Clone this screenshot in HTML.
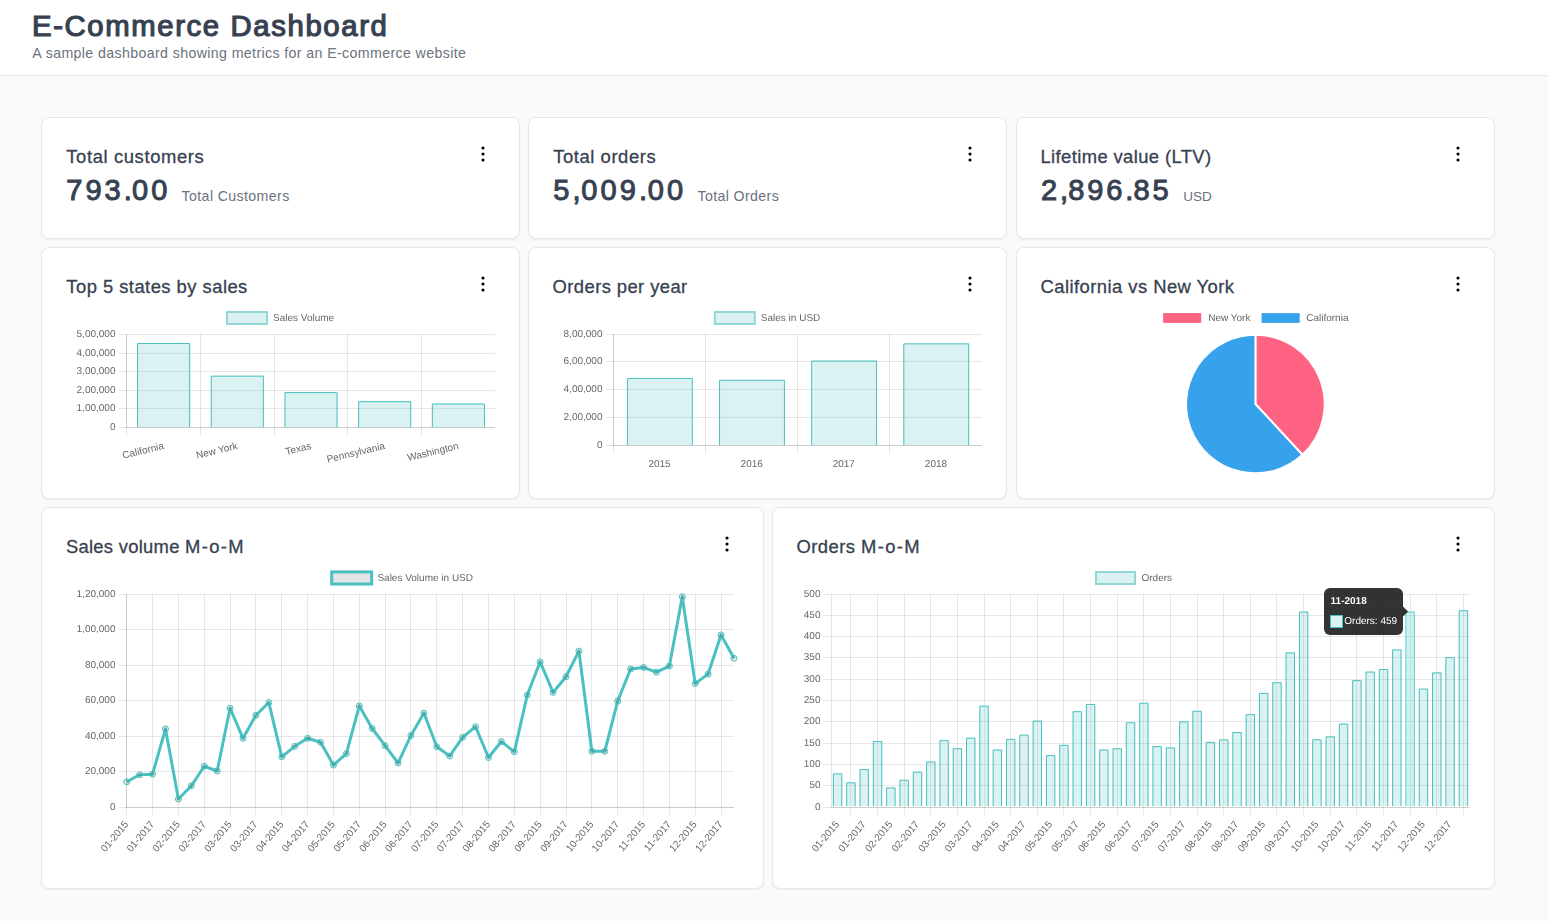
<!DOCTYPE html>
<html lang="en"><head><meta charset="utf-8"><title>E-Commerce Dashboard</title>
<style>
html,body{margin:0;padding:0}
body{width:1548px;height:921px;overflow:hidden;position:relative;background:#f9fafb;font-family:"Liberation Sans", sans-serif;color:#374151}
.hdr{position:absolute;left:0;top:0;width:1548px;height:75px;background:#fff;border-bottom:1px solid #e5e7eb}
.card{position:absolute;background:#fff;border:1px solid #e5e7eb;border-radius:8px;box-sizing:border-box;box-shadow:0 1px 2px rgba(0,0,0,.05)}
.t{position:absolute;white-space:pre;line-height:1;margin:0}
svg{position:absolute;left:0;top:0;will-change:transform}
svg text{font-family:"Liberation Sans", sans-serif;font-size:10px;fill:#666;text-rendering:geometricPrecision}

</style></head><body>
<div class="hdr"></div>
<div class="card" style="left:41px;top:117px;width:479px;height:122px"></div>
<div class="card" style="left:528px;top:117px;width:479px;height:122px"></div>
<div class="card" style="left:1016px;top:117px;width:479px;height:122px"></div>
<div class="card" style="left:41px;top:247px;width:479px;height:252px"></div>
<div class="card" style="left:528px;top:247px;width:479px;height:252px"></div>
<div class="card" style="left:1016px;top:247px;width:479px;height:252px"></div>
<div class="card" style="left:41px;top:507px;width:723px;height:382px"></div>
<div class="card" style="left:772px;top:507px;width:723px;height:382px"></div>
<h1 class="t" style="left:32.0px;top:10.60px;font-size:29.3px;font-weight:400;color:#374151;letter-spacing:1.624px;-webkit-text-stroke:1.2px #374151">E-Commerce Dashboard</h1>
<p class="t" style="left:32.3px;top:45.70px;font-size:14.2px;font-weight:400;color:#6b7280;letter-spacing:0.373px">A sample dashboard showing metrics for an E-commerce website</p>
<div class="t" style="left:66.3px;top:148.00px;font-size:18.4px;font-weight:400;color:#374151;letter-spacing:0.615px;-webkit-text-stroke:0.3px #374151">Total customers</div>
<div class="t" style="left:66.3px;top:176.30px;font-size:29.0px;font-weight:400;color:#374151;letter-spacing:2.983px;-webkit-text-stroke:1.0px #374151">793<span style="letter-spacing:0.383px">.</span>00</div>
<div class="t" style="left:181.6px;top:188.80px;font-size:14.2px;font-weight:400;color:#6b7280;letter-spacing:0.367px">Total Customers</div>
<div class="t" style="left:553.2px;top:148.00px;font-size:18.4px;font-weight:400;color:#374151;letter-spacing:0.576px;-webkit-text-stroke:0.3px #374151">Total orders</div>
<div class="t" style="left:553.3px;top:176.30px;font-size:29.0px;font-weight:400;color:#374151;letter-spacing:3.164px;-webkit-text-stroke:1.0px #374151">5<span style="letter-spacing:0.564px">,</span>009<span style="letter-spacing:0.564px">.</span>00</div>
<div class="t" style="left:697.6px;top:188.80px;font-size:14.2px;font-weight:400;color:#6b7280;letter-spacing:0.352px">Total Orders</div>
<div class="t" style="left:1040.5px;top:148.00px;font-size:18.4px;font-weight:400;color:#374151;letter-spacing:0.390px;-webkit-text-stroke:0.3px #374151">Lifetime value (LTV)</div>
<div class="t" style="left:1040.9px;top:176.30px;font-size:29.0px;font-weight:400;color:#374151;letter-spacing:2.851px;-webkit-text-stroke:1.0px #374151">2<span style="letter-spacing:0.251px">,</span>896<span style="letter-spacing:0.251px">.</span>85</div>
<div class="t" style="left:1183.3px;top:189.80px;font-size:13.6px;font-weight:400;color:#6b7280;letter-spacing:-0.034px">USD</div>
<div class="t" style="left:66.3px;top:278.20px;font-size:18.4px;font-weight:400;color:#374151;letter-spacing:0.464px;-webkit-text-stroke:0.3px #374151">Top 5 states by sales</div>
<div class="t" style="left:552.6px;top:278.20px;font-size:18.4px;font-weight:400;color:#374151;letter-spacing:0.415px;-webkit-text-stroke:0.3px #374151">Orders per year</div>
<div class="t" style="left:1040.5px;top:278.20px;font-size:18.4px;font-weight:400;color:#374151;letter-spacing:0.455px;-webkit-text-stroke:0.3px #374151">California vs New York</div>
<div class="t" style="left:65.9px;top:538.20px;font-size:18.4px;font-weight:400;color:#374151;-webkit-text-stroke:0.3px #374151"><span style="letter-spacing:0.283px">Sales volume </span><span style="letter-spacing:1.355px">M-o-M</span></div>
<div class="t" style="left:796.5px;top:538.20px;font-size:18.4px;font-weight:400;color:#374151;-webkit-text-stroke:0.3px #374151"><span style="letter-spacing:0.467px">Orders </span><span style="letter-spacing:1.335px">M-o-M</span></div>
<svg width="1548" height="921" viewBox="0 0 1548 921">
<circle cx="483" cy="148" r="1.55" fill="#000"/>
<circle cx="483" cy="154" r="1.55" fill="#000"/>
<circle cx="483" cy="160" r="1.55" fill="#000"/>
<circle cx="970" cy="148" r="1.55" fill="#000"/>
<circle cx="970" cy="154" r="1.55" fill="#000"/>
<circle cx="970" cy="160" r="1.55" fill="#000"/>
<circle cx="1458" cy="148" r="1.55" fill="#000"/>
<circle cx="1458" cy="154" r="1.55" fill="#000"/>
<circle cx="1458" cy="160" r="1.55" fill="#000"/>
<circle cx="483" cy="278" r="1.55" fill="#000"/>
<circle cx="483" cy="284" r="1.55" fill="#000"/>
<circle cx="483" cy="290" r="1.55" fill="#000"/>
<circle cx="970" cy="278" r="1.55" fill="#000"/>
<circle cx="970" cy="284" r="1.55" fill="#000"/>
<circle cx="970" cy="290" r="1.55" fill="#000"/>
<circle cx="1458" cy="278" r="1.55" fill="#000"/>
<circle cx="1458" cy="284" r="1.55" fill="#000"/>
<circle cx="1458" cy="290" r="1.55" fill="#000"/>
<circle cx="727" cy="538" r="1.55" fill="#000"/>
<circle cx="727" cy="544" r="1.55" fill="#000"/>
<circle cx="727" cy="550" r="1.55" fill="#000"/>
<circle cx="1458" cy="538" r="1.55" fill="#000"/>
<circle cx="1458" cy="544" r="1.55" fill="#000"/>
<circle cx="1458" cy="550" r="1.55" fill="#000"/>
<path d="M118.80 427.5H126.50" stroke="rgba(0,0,0,0.095)"/>
<path d="M126.00 427.5H495.00" stroke="rgba(0,0,0,0.195)"/>
<text transform="translate(115.50,429.80) scale(1,1)" text-anchor="end" >0</text>
<path d="M118.80 408.5H495.00" stroke="rgba(0,0,0,0.095)"/>
<text transform="translate(115.50,410.80) scale(1,1)" text-anchor="end" >1,00,000</text>
<path d="M118.80 390.5H495.00" stroke="rgba(0,0,0,0.095)"/>
<text transform="translate(115.50,392.80) scale(1,1)" text-anchor="end" >2,00,000</text>
<path d="M118.80 371.5H495.00" stroke="rgba(0,0,0,0.095)"/>
<text transform="translate(115.50,373.80) scale(1,1)" text-anchor="end" >3,00,000</text>
<path d="M118.80 353.5H495.00" stroke="rgba(0,0,0,0.095)"/>
<text transform="translate(115.50,355.80) scale(1,1)" text-anchor="end" >4,00,000</text>
<path d="M118.80 334.5H495.00" stroke="rgba(0,0,0,0.095)"/>
<text transform="translate(115.50,336.80) scale(1,1)" text-anchor="end" >5,00,000</text>
<path d="M126.5 334.00V428.00" stroke="rgba(0,0,0,0.195)"/>
<path d="M126.5 428.00V436.00" stroke="rgba(0,0,0,0.095)"/>
<path d="M200.5 334.00V436.00" stroke="rgba(0,0,0,0.095)"/>
<path d="M274.5 334.00V436.00" stroke="rgba(0,0,0,0.095)"/>
<path d="M347.5 334.00V436.00" stroke="rgba(0,0,0,0.095)"/>
<path d="M421.5 334.00V436.00" stroke="rgba(0,0,0,0.095)"/>
<rect x="137.07" y="343.00" width="53.06" height="84.40" fill="rgba(75,192,192,0.2)"/>
<path d="M137.57 427.40V343.50H189.63V427.40" fill="none" stroke="#4bc0c0" stroke-width="1"/>
<text transform="translate(163.60,445.60) rotate(-13.5) translate(0,3.3) scale(1,1)" text-anchor="end">California</text>
<rect x="210.77" y="375.70" width="53.06" height="51.70" fill="rgba(75,192,192,0.2)"/>
<path d="M211.27 427.40V376.20H263.33V427.40" fill="none" stroke="#4bc0c0" stroke-width="1"/>
<text transform="translate(237.30,445.60) rotate(-13.5) translate(0,3.3) scale(1,1)" text-anchor="end">New York</text>
<rect x="284.47" y="392.10" width="53.06" height="35.30" fill="rgba(75,192,192,0.2)"/>
<path d="M284.97 427.40V392.60H337.03V427.40" fill="none" stroke="#4bc0c0" stroke-width="1"/>
<text transform="translate(311.00,445.60) rotate(-13.5) translate(0,3.3) scale(1,1)" text-anchor="end">Texas</text>
<rect x="358.17" y="401.20" width="53.06" height="26.20" fill="rgba(75,192,192,0.2)"/>
<path d="M358.67 427.40V401.70H410.73V427.40" fill="none" stroke="#4bc0c0" stroke-width="1"/>
<text transform="translate(384.70,445.60) rotate(-13.5) translate(0,3.3) scale(1,1)" text-anchor="end">Pennsylvania</text>
<rect x="431.87" y="403.50" width="53.06" height="23.90" fill="rgba(75,192,192,0.2)"/>
<path d="M432.37 427.40V404.00H484.43V427.40" fill="none" stroke="#4bc0c0" stroke-width="1"/>
<text transform="translate(458.40,445.60) rotate(-13.5) translate(0,3.3) scale(1,1)" text-anchor="end">Washington</text>
<rect x="227.00" y="312.00" width="40.00" height="12.00" fill="#dbf2f2" stroke="#93d6d6" stroke-width="2"/>
<text transform="translate(273.00,321.00) scale(1,1)" text-anchor="start" >Sales Volume</text>
<path d="M605.80 445.5H613.50" stroke="rgba(0,0,0,0.095)"/>
<path d="M613.00 445.5H982.00" stroke="rgba(0,0,0,0.195)"/>
<text transform="translate(602.50,447.80) scale(1,1)" text-anchor="end" >0</text>
<path d="M605.80 417.5H982.00" stroke="rgba(0,0,0,0.095)"/>
<text transform="translate(602.50,419.80) scale(1,1)" text-anchor="end" >2,00,000</text>
<path d="M605.80 389.5H982.00" stroke="rgba(0,0,0,0.095)"/>
<text transform="translate(602.50,391.80) scale(1,1)" text-anchor="end" >4,00,000</text>
<path d="M605.80 361.5H982.00" stroke="rgba(0,0,0,0.095)"/>
<text transform="translate(602.50,363.80) scale(1,1)" text-anchor="end" >6,00,000</text>
<path d="M605.80 334.5H982.00" stroke="rgba(0,0,0,0.095)"/>
<text transform="translate(602.50,336.80) scale(1,1)" text-anchor="end" >8,00,000</text>
<path d="M613.5 334.00V446.00" stroke="rgba(0,0,0,0.195)"/>
<path d="M613.5 446.00V454.00" stroke="rgba(0,0,0,0.095)"/>
<path d="M705.5 334.00V454.00" stroke="rgba(0,0,0,0.095)"/>
<path d="M797.5 334.00V454.00" stroke="rgba(0,0,0,0.095)"/>
<path d="M889.5 334.00V454.00" stroke="rgba(0,0,0,0.095)"/>
<rect x="626.93" y="377.91" width="65.87" height="67.19" fill="rgba(75,192,192,0.2)"/>
<path d="M627.43 445.10V378.41H692.30V445.10" fill="none" stroke="#4bc0c0" stroke-width="1"/>
<text transform="translate(659.56,466.70) scale(1,1)" text-anchor="middle" >2015</text>
<rect x="719.05" y="379.81" width="65.87" height="65.29" fill="rgba(75,192,192,0.2)"/>
<path d="M719.55 445.10V380.31H784.42V445.10" fill="none" stroke="#4bc0c0" stroke-width="1"/>
<text transform="translate(751.69,466.70) scale(1,1)" text-anchor="middle" >2016</text>
<rect x="811.18" y="360.57" width="65.87" height="84.53" fill="rgba(75,192,192,0.2)"/>
<path d="M811.68 445.10V361.07H876.55V445.10" fill="none" stroke="#4bc0c0" stroke-width="1"/>
<text transform="translate(843.81,466.70) scale(1,1)" text-anchor="middle" >2017</text>
<rect x="903.30" y="343.37" width="65.87" height="101.73" fill="rgba(75,192,192,0.2)"/>
<path d="M903.80 445.10V343.87H968.67V445.10" fill="none" stroke="#4bc0c0" stroke-width="1"/>
<text transform="translate(935.94,466.70) scale(1,1)" text-anchor="middle" >2018</text>
<rect x="714.80" y="312.00" width="40.00" height="12.00" fill="#dbf2f2" stroke="#93d6d6" stroke-width="2"/>
<text transform="translate(760.80,321.00) scale(1,1)" text-anchor="start" >Sales in USD</text>
<path d="M1255.4 404.0L1255.4 334.7A69.3 69.3 0 0 1 1302.52 454.82Z" fill="#ff6384" stroke="#fff" stroke-width="2" stroke-linejoin="round"/>
<path d="M1255.4 404.0L1302.52 454.82A69.3 69.3 0 1 1 1255.4 334.7Z" fill="#36a2eb" stroke="#fff" stroke-width="2" stroke-linejoin="round"/>
<rect x="1163.1" y="313.1" width="38.1" height="9.8" fill="#ff6384"/>
<text transform="translate(1208.20,321.00) scale(1,1)" text-anchor="start" >New York</text>
<rect x="1261.6" y="313.1" width="38.1" height="9.8" fill="#36a2eb"/>
<text transform="translate(1306.20,321.00) scale(1,1)" text-anchor="start" >California</text>
<path d="M118.80 807.5H126.50" stroke="rgba(0,0,0,0.095)"/>
<path d="M126.00 807.5H734.00" stroke="rgba(0,0,0,0.195)"/>
<text transform="translate(115.50,809.80) scale(1,1)" text-anchor="end" >0</text>
<path d="M118.80 771.5H734.00" stroke="rgba(0,0,0,0.095)"/>
<text transform="translate(115.50,773.80) scale(1,1)" text-anchor="end" >20,000</text>
<path d="M118.80 736.5H734.00" stroke="rgba(0,0,0,0.095)"/>
<text transform="translate(115.50,738.80) scale(1,1)" text-anchor="end" >40,000</text>
<path d="M118.80 700.5H734.00" stroke="rgba(0,0,0,0.095)"/>
<text transform="translate(115.50,702.80) scale(1,1)" text-anchor="end" >60,000</text>
<path d="M118.80 665.5H734.00" stroke="rgba(0,0,0,0.095)"/>
<text transform="translate(115.50,667.80) scale(1,1)" text-anchor="end" >80,000</text>
<path d="M118.80 629.5H734.00" stroke="rgba(0,0,0,0.095)"/>
<text transform="translate(115.50,631.80) scale(1,1)" text-anchor="end" >1,00,000</text>
<path d="M118.80 594.5H734.00" stroke="rgba(0,0,0,0.095)"/>
<text transform="translate(115.50,596.80) scale(1,1)" text-anchor="end" >1,20,000</text>
<path d="M126.5 594.00V808.00" stroke="rgba(0,0,0,0.195)"/>
<path d="M126.5 808.00V815.00" stroke="rgba(0,0,0,0.095)"/>
<text transform="translate(126.42,822.30) rotate(-50) translate(0,3.3) scale(1,1)" text-anchor="end">01-2015</text>
<path d="M152.5 594.00V815.00" stroke="rgba(0,0,0,0.095)"/>
<text transform="translate(152.26,822.30) rotate(-50) translate(0,3.3) scale(1,1)" text-anchor="end">01-2017</text>
<path d="M178.5 594.00V815.00" stroke="rgba(0,0,0,0.095)"/>
<text transform="translate(178.10,822.30) rotate(-50) translate(0,3.3) scale(1,1)" text-anchor="end">02-2015</text>
<path d="M204.5 594.00V815.00" stroke="rgba(0,0,0,0.095)"/>
<text transform="translate(203.94,822.30) rotate(-50) translate(0,3.3) scale(1,1)" text-anchor="end">02-2017</text>
<path d="M230.5 594.00V815.00" stroke="rgba(0,0,0,0.095)"/>
<text transform="translate(229.78,822.30) rotate(-50) translate(0,3.3) scale(1,1)" text-anchor="end">03-2015</text>
<path d="M255.5 594.00V815.00" stroke="rgba(0,0,0,0.095)"/>
<text transform="translate(255.62,822.30) rotate(-50) translate(0,3.3) scale(1,1)" text-anchor="end">03-2017</text>
<path d="M281.5 594.00V815.00" stroke="rgba(0,0,0,0.095)"/>
<text transform="translate(281.46,822.30) rotate(-50) translate(0,3.3) scale(1,1)" text-anchor="end">04-2015</text>
<path d="M307.5 594.00V815.00" stroke="rgba(0,0,0,0.095)"/>
<text transform="translate(307.30,822.30) rotate(-50) translate(0,3.3) scale(1,1)" text-anchor="end">04-2017</text>
<path d="M333.5 594.00V815.00" stroke="rgba(0,0,0,0.095)"/>
<text transform="translate(333.14,822.30) rotate(-50) translate(0,3.3) scale(1,1)" text-anchor="end">05-2015</text>
<path d="M359.5 594.00V815.00" stroke="rgba(0,0,0,0.095)"/>
<text transform="translate(358.98,822.30) rotate(-50) translate(0,3.3) scale(1,1)" text-anchor="end">05-2017</text>
<path d="M385.5 594.00V815.00" stroke="rgba(0,0,0,0.095)"/>
<text transform="translate(384.82,822.30) rotate(-50) translate(0,3.3) scale(1,1)" text-anchor="end">06-2015</text>
<path d="M410.5 594.00V815.00" stroke="rgba(0,0,0,0.095)"/>
<text transform="translate(410.66,822.30) rotate(-50) translate(0,3.3) scale(1,1)" text-anchor="end">06-2017</text>
<path d="M436.5 594.00V815.00" stroke="rgba(0,0,0,0.095)"/>
<text transform="translate(436.50,822.30) rotate(-50) translate(0,3.3) scale(1,1)" text-anchor="end">07-2015</text>
<path d="M462.5 594.00V815.00" stroke="rgba(0,0,0,0.095)"/>
<text transform="translate(462.34,822.30) rotate(-50) translate(0,3.3) scale(1,1)" text-anchor="end">07-2017</text>
<path d="M488.5 594.00V815.00" stroke="rgba(0,0,0,0.095)"/>
<text transform="translate(488.18,822.30) rotate(-50) translate(0,3.3) scale(1,1)" text-anchor="end">08-2015</text>
<path d="M514.5 594.00V815.00" stroke="rgba(0,0,0,0.095)"/>
<text transform="translate(514.02,822.30) rotate(-50) translate(0,3.3) scale(1,1)" text-anchor="end">08-2017</text>
<path d="M540.5 594.00V815.00" stroke="rgba(0,0,0,0.095)"/>
<text transform="translate(539.86,822.30) rotate(-50) translate(0,3.3) scale(1,1)" text-anchor="end">09-2015</text>
<path d="M566.5 594.00V815.00" stroke="rgba(0,0,0,0.095)"/>
<text transform="translate(565.70,822.30) rotate(-50) translate(0,3.3) scale(1,1)" text-anchor="end">09-2017</text>
<path d="M591.5 594.00V815.00" stroke="rgba(0,0,0,0.095)"/>
<text transform="translate(591.54,822.30) rotate(-50) translate(0,3.3) scale(1,1)" text-anchor="end">10-2015</text>
<path d="M617.5 594.00V815.00" stroke="rgba(0,0,0,0.095)"/>
<text transform="translate(617.38,822.30) rotate(-50) translate(0,3.3) scale(1,1)" text-anchor="end">10-2017</text>
<path d="M643.5 594.00V815.00" stroke="rgba(0,0,0,0.095)"/>
<text transform="translate(643.22,822.30) rotate(-50) translate(0,3.3) scale(1,1)" text-anchor="end">11-2015</text>
<path d="M669.5 594.00V815.00" stroke="rgba(0,0,0,0.095)"/>
<text transform="translate(669.06,822.30) rotate(-50) translate(0,3.3) scale(1,1)" text-anchor="end">11-2017</text>
<path d="M695.5 594.00V815.00" stroke="rgba(0,0,0,0.095)"/>
<text transform="translate(694.90,822.30) rotate(-50) translate(0,3.3) scale(1,1)" text-anchor="end">12-2015</text>
<path d="M721.5 594.00V815.00" stroke="rgba(0,0,0,0.095)"/>
<text transform="translate(720.74,822.30) rotate(-50) translate(0,3.3) scale(1,1)" text-anchor="end">12-2017</text>
<polyline fill="none" stroke="#4bc0c0" stroke-width="3" stroke-linejoin="round" points="126.72,781.78 139.64,774.79 152.56,774.14 165.48,729.00 178.40,799.03 191.32,785.84 204.24,766.26 217.16,771.02 230.08,708.20 243.00,738.31 255.92,715.25 268.84,702.55 281.76,756.83 294.68,746.35 307.60,738.27 320.52,742.22 333.44,765.07 346.36,753.57 359.28,705.90 372.20,728.49 385.12,745.64 398.04,763.03 410.96,735.44 423.88,713.01 436.80,746.80 449.72,755.99 462.64,737.36 475.56,726.71 488.48,757.51 501.40,741.56 514.32,751.82 527.24,695.01 540.16,661.90 553.08,692.39 566.00,676.75 578.92,651.09 591.84,751.22 604.76,751.31 617.68,701.10 630.60,669.00 643.52,667.48 656.44,672.20 669.36,666.09 682.28,596.81 695.20,683.61 708.12,674.07 721.04,634.88 733.96,658.25"/>
<circle cx="126.72" cy="781.78" r="3" fill="rgba(0,0,0,0.1)" stroke="#4bc0c0" stroke-width="1"/>
<circle cx="139.64" cy="774.79" r="3" fill="rgba(0,0,0,0.1)" stroke="#4bc0c0" stroke-width="1"/>
<circle cx="152.56" cy="774.14" r="3" fill="rgba(0,0,0,0.1)" stroke="#4bc0c0" stroke-width="1"/>
<circle cx="165.48" cy="729.00" r="3" fill="rgba(0,0,0,0.1)" stroke="#4bc0c0" stroke-width="1"/>
<circle cx="178.40" cy="799.03" r="3" fill="rgba(0,0,0,0.1)" stroke="#4bc0c0" stroke-width="1"/>
<circle cx="191.32" cy="785.84" r="3" fill="rgba(0,0,0,0.1)" stroke="#4bc0c0" stroke-width="1"/>
<circle cx="204.24" cy="766.26" r="3" fill="rgba(0,0,0,0.1)" stroke="#4bc0c0" stroke-width="1"/>
<circle cx="217.16" cy="771.02" r="3" fill="rgba(0,0,0,0.1)" stroke="#4bc0c0" stroke-width="1"/>
<circle cx="230.08" cy="708.20" r="3" fill="rgba(0,0,0,0.1)" stroke="#4bc0c0" stroke-width="1"/>
<circle cx="243.00" cy="738.31" r="3" fill="rgba(0,0,0,0.1)" stroke="#4bc0c0" stroke-width="1"/>
<circle cx="255.92" cy="715.25" r="3" fill="rgba(0,0,0,0.1)" stroke="#4bc0c0" stroke-width="1"/>
<circle cx="268.84" cy="702.55" r="3" fill="rgba(0,0,0,0.1)" stroke="#4bc0c0" stroke-width="1"/>
<circle cx="281.76" cy="756.83" r="3" fill="rgba(0,0,0,0.1)" stroke="#4bc0c0" stroke-width="1"/>
<circle cx="294.68" cy="746.35" r="3" fill="rgba(0,0,0,0.1)" stroke="#4bc0c0" stroke-width="1"/>
<circle cx="307.60" cy="738.27" r="3" fill="rgba(0,0,0,0.1)" stroke="#4bc0c0" stroke-width="1"/>
<circle cx="320.52" cy="742.22" r="3" fill="rgba(0,0,0,0.1)" stroke="#4bc0c0" stroke-width="1"/>
<circle cx="333.44" cy="765.07" r="3" fill="rgba(0,0,0,0.1)" stroke="#4bc0c0" stroke-width="1"/>
<circle cx="346.36" cy="753.57" r="3" fill="rgba(0,0,0,0.1)" stroke="#4bc0c0" stroke-width="1"/>
<circle cx="359.28" cy="705.90" r="3" fill="rgba(0,0,0,0.1)" stroke="#4bc0c0" stroke-width="1"/>
<circle cx="372.20" cy="728.49" r="3" fill="rgba(0,0,0,0.1)" stroke="#4bc0c0" stroke-width="1"/>
<circle cx="385.12" cy="745.64" r="3" fill="rgba(0,0,0,0.1)" stroke="#4bc0c0" stroke-width="1"/>
<circle cx="398.04" cy="763.03" r="3" fill="rgba(0,0,0,0.1)" stroke="#4bc0c0" stroke-width="1"/>
<circle cx="410.96" cy="735.44" r="3" fill="rgba(0,0,0,0.1)" stroke="#4bc0c0" stroke-width="1"/>
<circle cx="423.88" cy="713.01" r="3" fill="rgba(0,0,0,0.1)" stroke="#4bc0c0" stroke-width="1"/>
<circle cx="436.80" cy="746.80" r="3" fill="rgba(0,0,0,0.1)" stroke="#4bc0c0" stroke-width="1"/>
<circle cx="449.72" cy="755.99" r="3" fill="rgba(0,0,0,0.1)" stroke="#4bc0c0" stroke-width="1"/>
<circle cx="462.64" cy="737.36" r="3" fill="rgba(0,0,0,0.1)" stroke="#4bc0c0" stroke-width="1"/>
<circle cx="475.56" cy="726.71" r="3" fill="rgba(0,0,0,0.1)" stroke="#4bc0c0" stroke-width="1"/>
<circle cx="488.48" cy="757.51" r="3" fill="rgba(0,0,0,0.1)" stroke="#4bc0c0" stroke-width="1"/>
<circle cx="501.40" cy="741.56" r="3" fill="rgba(0,0,0,0.1)" stroke="#4bc0c0" stroke-width="1"/>
<circle cx="514.32" cy="751.82" r="3" fill="rgba(0,0,0,0.1)" stroke="#4bc0c0" stroke-width="1"/>
<circle cx="527.24" cy="695.01" r="3" fill="rgba(0,0,0,0.1)" stroke="#4bc0c0" stroke-width="1"/>
<circle cx="540.16" cy="661.90" r="3" fill="rgba(0,0,0,0.1)" stroke="#4bc0c0" stroke-width="1"/>
<circle cx="553.08" cy="692.39" r="3" fill="rgba(0,0,0,0.1)" stroke="#4bc0c0" stroke-width="1"/>
<circle cx="566.00" cy="676.75" r="3" fill="rgba(0,0,0,0.1)" stroke="#4bc0c0" stroke-width="1"/>
<circle cx="578.92" cy="651.09" r="3" fill="rgba(0,0,0,0.1)" stroke="#4bc0c0" stroke-width="1"/>
<circle cx="591.84" cy="751.22" r="3" fill="rgba(0,0,0,0.1)" stroke="#4bc0c0" stroke-width="1"/>
<circle cx="604.76" cy="751.31" r="3" fill="rgba(0,0,0,0.1)" stroke="#4bc0c0" stroke-width="1"/>
<circle cx="617.68" cy="701.10" r="3" fill="rgba(0,0,0,0.1)" stroke="#4bc0c0" stroke-width="1"/>
<circle cx="630.60" cy="669.00" r="3" fill="rgba(0,0,0,0.1)" stroke="#4bc0c0" stroke-width="1"/>
<circle cx="643.52" cy="667.48" r="3" fill="rgba(0,0,0,0.1)" stroke="#4bc0c0" stroke-width="1"/>
<circle cx="656.44" cy="672.20" r="3" fill="rgba(0,0,0,0.1)" stroke="#4bc0c0" stroke-width="1"/>
<circle cx="669.36" cy="666.09" r="3" fill="rgba(0,0,0,0.1)" stroke="#4bc0c0" stroke-width="1"/>
<circle cx="682.28" cy="596.81" r="3" fill="rgba(0,0,0,0.1)" stroke="#4bc0c0" stroke-width="1"/>
<circle cx="695.20" cy="683.61" r="3" fill="rgba(0,0,0,0.1)" stroke="#4bc0c0" stroke-width="1"/>
<circle cx="708.12" cy="674.07" r="3" fill="rgba(0,0,0,0.1)" stroke="#4bc0c0" stroke-width="1"/>
<circle cx="721.04" cy="634.88" r="3" fill="rgba(0,0,0,0.1)" stroke="#4bc0c0" stroke-width="1"/>
<circle cx="733.96" cy="658.25" r="3" fill="rgba(0,0,0,0.1)" stroke="#4bc0c0" stroke-width="1"/>
<rect x="331.70" y="571.90" width="40.00" height="12.10" fill="#e5e5e5" stroke="#4bc0c0" stroke-width="3"/>
<text transform="translate(377.40,581.00) scale(1,1)" text-anchor="start" >Sales Volume in USD</text>
<path d="M823.10 807.5H831.50" stroke="rgba(0,0,0,0.095)"/>
<path d="M831.00 807.5H1469.80" stroke="rgba(0,0,0,0.195)"/>
<text transform="translate(820.50,809.80) scale(1,1)" text-anchor="end" >0</text>
<path d="M823.10 785.5H1469.80" stroke="rgba(0,0,0,0.095)"/>
<text transform="translate(820.50,787.80) scale(1,1)" text-anchor="end" >50</text>
<path d="M823.10 764.5H1469.80" stroke="rgba(0,0,0,0.095)"/>
<text transform="translate(820.50,766.80) scale(1,1)" text-anchor="end" >100</text>
<path d="M823.10 743.5H1469.80" stroke="rgba(0,0,0,0.095)"/>
<text transform="translate(820.50,745.80) scale(1,1)" text-anchor="end" >150</text>
<path d="M823.10 721.5H1469.80" stroke="rgba(0,0,0,0.095)"/>
<text transform="translate(820.50,723.80) scale(1,1)" text-anchor="end" >200</text>
<path d="M823.10 700.5H1469.80" stroke="rgba(0,0,0,0.095)"/>
<text transform="translate(820.50,702.80) scale(1,1)" text-anchor="end" >250</text>
<path d="M823.10 679.5H1469.80" stroke="rgba(0,0,0,0.095)"/>
<text transform="translate(820.50,681.80) scale(1,1)" text-anchor="end" >300</text>
<path d="M823.10 657.5H1469.80" stroke="rgba(0,0,0,0.095)"/>
<text transform="translate(820.50,659.80) scale(1,1)" text-anchor="end" >350</text>
<path d="M823.10 636.5H1469.80" stroke="rgba(0,0,0,0.095)"/>
<text transform="translate(820.50,638.80) scale(1,1)" text-anchor="end" >400</text>
<path d="M823.10 615.5H1469.80" stroke="rgba(0,0,0,0.095)"/>
<text transform="translate(820.50,617.80) scale(1,1)" text-anchor="end" >450</text>
<path d="M823.10 594.5H1469.80" stroke="rgba(0,0,0,0.095)"/>
<text transform="translate(820.50,596.80) scale(1,1)" text-anchor="end" >500</text>
<path d="M831.5 594.00V808.00" stroke="rgba(0,0,0,0.095)"/>
<text transform="translate(837.19,822.30) rotate(-50) translate(0,3.3) scale(1,1)" text-anchor="end">01-2015</text>
<path d="M850.5 594.00V815.00" stroke="rgba(0,0,0,0.095)"/>
<text transform="translate(863.82,822.30) rotate(-50) translate(0,3.3) scale(1,1)" text-anchor="end">01-2017</text>
<path d="M877.5 594.00V815.00" stroke="rgba(0,0,0,0.095)"/>
<text transform="translate(890.45,822.30) rotate(-50) translate(0,3.3) scale(1,1)" text-anchor="end">02-2015</text>
<path d="M904.5 594.00V815.00" stroke="rgba(0,0,0,0.095)"/>
<text transform="translate(917.08,822.30) rotate(-50) translate(0,3.3) scale(1,1)" text-anchor="end">02-2017</text>
<path d="M930.5 594.00V815.00" stroke="rgba(0,0,0,0.095)"/>
<text transform="translate(943.71,822.30) rotate(-50) translate(0,3.3) scale(1,1)" text-anchor="end">03-2015</text>
<path d="M957.5 594.00V815.00" stroke="rgba(0,0,0,0.095)"/>
<text transform="translate(970.34,822.30) rotate(-50) translate(0,3.3) scale(1,1)" text-anchor="end">03-2017</text>
<path d="M984.5 594.00V815.00" stroke="rgba(0,0,0,0.095)"/>
<text transform="translate(996.97,822.30) rotate(-50) translate(0,3.3) scale(1,1)" text-anchor="end">04-2015</text>
<path d="M1010.5 594.00V815.00" stroke="rgba(0,0,0,0.095)"/>
<text transform="translate(1023.60,822.30) rotate(-50) translate(0,3.3) scale(1,1)" text-anchor="end">04-2017</text>
<path d="M1037.5 594.00V815.00" stroke="rgba(0,0,0,0.095)"/>
<text transform="translate(1050.22,822.30) rotate(-50) translate(0,3.3) scale(1,1)" text-anchor="end">05-2015</text>
<path d="M1063.5 594.00V815.00" stroke="rgba(0,0,0,0.095)"/>
<text transform="translate(1076.86,822.30) rotate(-50) translate(0,3.3) scale(1,1)" text-anchor="end">05-2017</text>
<path d="M1090.5 594.00V815.00" stroke="rgba(0,0,0,0.095)"/>
<text transform="translate(1103.48,822.30) rotate(-50) translate(0,3.3) scale(1,1)" text-anchor="end">06-2015</text>
<path d="M1117.5 594.00V815.00" stroke="rgba(0,0,0,0.095)"/>
<text transform="translate(1130.12,822.30) rotate(-50) translate(0,3.3) scale(1,1)" text-anchor="end">06-2017</text>
<path d="M1143.5 594.00V815.00" stroke="rgba(0,0,0,0.095)"/>
<text transform="translate(1156.74,822.30) rotate(-50) translate(0,3.3) scale(1,1)" text-anchor="end">07-2015</text>
<path d="M1170.5 594.00V815.00" stroke="rgba(0,0,0,0.095)"/>
<text transform="translate(1183.38,822.30) rotate(-50) translate(0,3.3) scale(1,1)" text-anchor="end">07-2017</text>
<path d="M1197.5 594.00V815.00" stroke="rgba(0,0,0,0.095)"/>
<text transform="translate(1210.00,822.30) rotate(-50) translate(0,3.3) scale(1,1)" text-anchor="end">08-2015</text>
<path d="M1223.5 594.00V815.00" stroke="rgba(0,0,0,0.095)"/>
<text transform="translate(1236.63,822.30) rotate(-50) translate(0,3.3) scale(1,1)" text-anchor="end">08-2017</text>
<path d="M1250.5 594.00V815.00" stroke="rgba(0,0,0,0.095)"/>
<text transform="translate(1263.26,822.30) rotate(-50) translate(0,3.3) scale(1,1)" text-anchor="end">09-2015</text>
<path d="M1276.5 594.00V815.00" stroke="rgba(0,0,0,0.095)"/>
<text transform="translate(1289.89,822.30) rotate(-50) translate(0,3.3) scale(1,1)" text-anchor="end">09-2017</text>
<path d="M1303.5 594.00V815.00" stroke="rgba(0,0,0,0.095)"/>
<text transform="translate(1316.52,822.30) rotate(-50) translate(0,3.3) scale(1,1)" text-anchor="end">10-2015</text>
<path d="M1330.5 594.00V815.00" stroke="rgba(0,0,0,0.095)"/>
<text transform="translate(1343.15,822.30) rotate(-50) translate(0,3.3) scale(1,1)" text-anchor="end">10-2017</text>
<path d="M1356.5 594.00V815.00" stroke="rgba(0,0,0,0.095)"/>
<text transform="translate(1369.78,822.30) rotate(-50) translate(0,3.3) scale(1,1)" text-anchor="end">11-2015</text>
<path d="M1383.5 594.00V815.00" stroke="rgba(0,0,0,0.095)"/>
<text transform="translate(1396.41,822.30) rotate(-50) translate(0,3.3) scale(1,1)" text-anchor="end">11-2017</text>
<path d="M1410.5 594.00V815.00" stroke="rgba(0,0,0,0.095)"/>
<text transform="translate(1423.05,822.30) rotate(-50) translate(0,3.3) scale(1,1)" text-anchor="end">12-2015</text>
<path d="M1436.5 594.00V815.00" stroke="rgba(0,0,0,0.095)"/>
<text transform="translate(1449.67,822.30) rotate(-50) translate(0,3.3) scale(1,1)" text-anchor="end">12-2017</text>
<path d="M1463.5 594.00V815.00" stroke="rgba(0,0,0,0.095)"/>
<rect x="832.88" y="773.40" width="9.40" height="32.75" fill="rgba(75,192,192,0.2)"/>
<path d="M833.38 806.15V773.90H841.79V806.15" fill="none" stroke="#4bc0c0" stroke-width="1"/>
<rect x="846.20" y="782.34" width="9.40" height="23.81" fill="rgba(75,192,192,0.2)"/>
<path d="M846.70 806.15V782.84H855.10V806.15" fill="none" stroke="#4bc0c0" stroke-width="1"/>
<rect x="859.51" y="769.14" width="9.40" height="37.01" fill="rgba(75,192,192,0.2)"/>
<path d="M860.01 806.15V769.64H868.42V806.15" fill="none" stroke="#4bc0c0" stroke-width="1"/>
<rect x="872.83" y="741.02" width="9.40" height="65.13" fill="rgba(75,192,192,0.2)"/>
<path d="M873.33 806.15V741.52H881.73V806.15" fill="none" stroke="#4bc0c0" stroke-width="1"/>
<rect x="886.14" y="787.45" width="9.40" height="18.70" fill="rgba(75,192,192,0.2)"/>
<path d="M886.64 806.15V787.95H895.05V806.15" fill="none" stroke="#4bc0c0" stroke-width="1"/>
<rect x="899.46" y="779.79" width="9.40" height="26.36" fill="rgba(75,192,192,0.2)"/>
<path d="M899.96 806.15V780.29H908.36V806.15" fill="none" stroke="#4bc0c0" stroke-width="1"/>
<rect x="912.77" y="771.69" width="9.40" height="34.46" fill="rgba(75,192,192,0.2)"/>
<path d="M913.27 806.15V772.19H921.68V806.15" fill="none" stroke="#4bc0c0" stroke-width="1"/>
<rect x="926.09" y="761.47" width="9.40" height="44.68" fill="rgba(75,192,192,0.2)"/>
<path d="M926.59 806.15V761.97H934.99V806.15" fill="none" stroke="#4bc0c0" stroke-width="1"/>
<rect x="939.40" y="740.17" width="9.40" height="65.98" fill="rgba(75,192,192,0.2)"/>
<path d="M939.90 806.15V740.67H948.31V806.15" fill="none" stroke="#4bc0c0" stroke-width="1"/>
<rect x="952.72" y="748.26" width="9.40" height="57.89" fill="rgba(75,192,192,0.2)"/>
<path d="M953.22 806.15V748.76H961.62V806.15" fill="none" stroke="#4bc0c0" stroke-width="1"/>
<rect x="966.03" y="737.61" width="9.40" height="68.54" fill="rgba(75,192,192,0.2)"/>
<path d="M966.53 806.15V738.11H974.94V806.15" fill="none" stroke="#4bc0c0" stroke-width="1"/>
<rect x="979.35" y="705.66" width="9.40" height="100.49" fill="rgba(75,192,192,0.2)"/>
<path d="M979.85 806.15V706.16H988.25V806.15" fill="none" stroke="#4bc0c0" stroke-width="1"/>
<rect x="992.66" y="749.54" width="9.40" height="56.61" fill="rgba(75,192,192,0.2)"/>
<path d="M993.16 806.15V750.04H1001.57V806.15" fill="none" stroke="#4bc0c0" stroke-width="1"/>
<rect x="1005.98" y="738.89" width="9.40" height="67.26" fill="rgba(75,192,192,0.2)"/>
<path d="M1006.48 806.15V739.39H1014.88V806.15" fill="none" stroke="#4bc0c0" stroke-width="1"/>
<rect x="1019.29" y="734.63" width="9.40" height="71.52" fill="rgba(75,192,192,0.2)"/>
<path d="M1019.79 806.15V735.13H1028.19V806.15" fill="none" stroke="#4bc0c0" stroke-width="1"/>
<rect x="1032.61" y="720.57" width="9.40" height="85.58" fill="rgba(75,192,192,0.2)"/>
<path d="M1033.11 806.15V721.07H1041.51V806.15" fill="none" stroke="#4bc0c0" stroke-width="1"/>
<rect x="1045.92" y="755.08" width="9.40" height="51.07" fill="rgba(75,192,192,0.2)"/>
<path d="M1046.42 806.15V755.58H1054.83V806.15" fill="none" stroke="#4bc0c0" stroke-width="1"/>
<rect x="1059.24" y="744.85" width="9.40" height="61.30" fill="rgba(75,192,192,0.2)"/>
<path d="M1059.74 806.15V745.35H1068.14V806.15" fill="none" stroke="#4bc0c0" stroke-width="1"/>
<rect x="1072.56" y="711.20" width="9.40" height="94.95" fill="rgba(75,192,192,0.2)"/>
<path d="M1073.06 806.15V711.70H1081.46V806.15" fill="none" stroke="#4bc0c0" stroke-width="1"/>
<rect x="1085.87" y="703.96" width="9.40" height="102.19" fill="rgba(75,192,192,0.2)"/>
<path d="M1086.37 806.15V704.46H1094.77V806.15" fill="none" stroke="#4bc0c0" stroke-width="1"/>
<rect x="1099.18" y="749.54" width="9.40" height="56.61" fill="rgba(75,192,192,0.2)"/>
<path d="M1099.68 806.15V750.04H1108.09V806.15" fill="none" stroke="#4bc0c0" stroke-width="1"/>
<rect x="1112.50" y="748.26" width="9.40" height="57.89" fill="rgba(75,192,192,0.2)"/>
<path d="M1113.00 806.15V748.76H1121.40V806.15" fill="none" stroke="#4bc0c0" stroke-width="1"/>
<rect x="1125.82" y="722.28" width="9.40" height="83.87" fill="rgba(75,192,192,0.2)"/>
<path d="M1126.32 806.15V722.78H1134.72V806.15" fill="none" stroke="#4bc0c0" stroke-width="1"/>
<rect x="1139.13" y="702.68" width="9.40" height="103.47" fill="rgba(75,192,192,0.2)"/>
<path d="M1139.63 806.15V703.18H1148.03V806.15" fill="none" stroke="#4bc0c0" stroke-width="1"/>
<rect x="1152.44" y="746.13" width="9.40" height="60.02" fill="rgba(75,192,192,0.2)"/>
<path d="M1152.94 806.15V746.63H1161.35V806.15" fill="none" stroke="#4bc0c0" stroke-width="1"/>
<rect x="1165.76" y="747.41" width="9.40" height="58.74" fill="rgba(75,192,192,0.2)"/>
<path d="M1166.26 806.15V747.91H1174.66V806.15" fill="none" stroke="#4bc0c0" stroke-width="1"/>
<rect x="1179.08" y="721.42" width="9.40" height="84.73" fill="rgba(75,192,192,0.2)"/>
<path d="M1179.58 806.15V721.92H1187.98V806.15" fill="none" stroke="#4bc0c0" stroke-width="1"/>
<rect x="1192.39" y="710.77" width="9.40" height="95.38" fill="rgba(75,192,192,0.2)"/>
<path d="M1192.89 806.15V711.27H1201.29V806.15" fill="none" stroke="#4bc0c0" stroke-width="1"/>
<rect x="1205.70" y="741.87" width="9.40" height="64.28" fill="rgba(75,192,192,0.2)"/>
<path d="M1206.20 806.15V742.37H1214.61V806.15" fill="none" stroke="#4bc0c0" stroke-width="1"/>
<rect x="1219.02" y="739.32" width="9.40" height="66.83" fill="rgba(75,192,192,0.2)"/>
<path d="M1219.52 806.15V739.82H1227.92V806.15" fill="none" stroke="#4bc0c0" stroke-width="1"/>
<rect x="1232.34" y="732.07" width="9.40" height="74.08" fill="rgba(75,192,192,0.2)"/>
<path d="M1232.84 806.15V732.57H1241.24V806.15" fill="none" stroke="#4bc0c0" stroke-width="1"/>
<rect x="1245.65" y="714.18" width="9.40" height="91.97" fill="rgba(75,192,192,0.2)"/>
<path d="M1246.15 806.15V714.68H1254.55V806.15" fill="none" stroke="#4bc0c0" stroke-width="1"/>
<rect x="1258.96" y="692.88" width="9.40" height="113.27" fill="rgba(75,192,192,0.2)"/>
<path d="M1259.46 806.15V693.38H1267.87V806.15" fill="none" stroke="#4bc0c0" stroke-width="1"/>
<rect x="1272.28" y="682.23" width="9.40" height="123.92" fill="rgba(75,192,192,0.2)"/>
<path d="M1272.78 806.15V682.73H1281.18V806.15" fill="none" stroke="#4bc0c0" stroke-width="1"/>
<rect x="1285.60" y="652.41" width="9.40" height="153.74" fill="rgba(75,192,192,0.2)"/>
<path d="M1286.10 806.15V652.91H1294.50V806.15" fill="none" stroke="#4bc0c0" stroke-width="1"/>
<rect x="1298.91" y="611.52" width="9.40" height="194.63" fill="rgba(75,192,192,0.2)"/>
<path d="M1299.41 806.15V612.02H1307.81V806.15" fill="none" stroke="#4bc0c0" stroke-width="1"/>
<rect x="1312.22" y="739.32" width="9.40" height="66.83" fill="rgba(75,192,192,0.2)"/>
<path d="M1312.72 806.15V739.82H1321.12V806.15" fill="none" stroke="#4bc0c0" stroke-width="1"/>
<rect x="1325.54" y="736.33" width="9.40" height="69.82" fill="rgba(75,192,192,0.2)"/>
<path d="M1326.04 806.15V736.83H1334.44V806.15" fill="none" stroke="#4bc0c0" stroke-width="1"/>
<rect x="1338.86" y="723.55" width="9.40" height="82.60" fill="rgba(75,192,192,0.2)"/>
<path d="M1339.36 806.15V724.05H1347.76V806.15" fill="none" stroke="#4bc0c0" stroke-width="1"/>
<rect x="1352.17" y="680.10" width="9.40" height="126.05" fill="rgba(75,192,192,0.2)"/>
<path d="M1352.67 806.15V680.60H1361.07V806.15" fill="none" stroke="#4bc0c0" stroke-width="1"/>
<rect x="1365.48" y="671.58" width="9.40" height="134.57" fill="rgba(75,192,192,0.2)"/>
<path d="M1365.98 806.15V672.08H1374.38V806.15" fill="none" stroke="#4bc0c0" stroke-width="1"/>
<rect x="1378.80" y="669.03" width="9.40" height="137.12" fill="rgba(75,192,192,0.2)"/>
<path d="M1379.30 806.15V669.53H1387.70V806.15" fill="none" stroke="#4bc0c0" stroke-width="1"/>
<rect x="1392.12" y="649.43" width="9.40" height="156.72" fill="rgba(75,192,192,0.2)"/>
<path d="M1392.62 806.15V649.93H1401.02V806.15" fill="none" stroke="#4bc0c0" stroke-width="1"/>
<rect x="1405.43" y="611.52" width="9.40" height="194.63" fill="rgba(75,205,205,0.27)"/>
<path d="M1405.93 806.15V612.02H1414.33V806.15" fill="none" stroke="#62d2d2" stroke-width="1"/>
<rect x="1418.75" y="688.62" width="9.40" height="117.53" fill="rgba(75,192,192,0.2)"/>
<path d="M1419.25 806.15V689.12H1427.65V806.15" fill="none" stroke="#4bc0c0" stroke-width="1"/>
<rect x="1432.06" y="672.43" width="9.40" height="133.72" fill="rgba(75,192,192,0.2)"/>
<path d="M1432.56 806.15V672.93H1440.96V806.15" fill="none" stroke="#4bc0c0" stroke-width="1"/>
<rect x="1445.38" y="657.10" width="9.40" height="149.05" fill="rgba(75,192,192,0.2)"/>
<path d="M1445.88 806.15V657.60H1454.28V806.15" fill="none" stroke="#4bc0c0" stroke-width="1"/>
<rect x="1458.69" y="610.24" width="9.40" height="195.91" fill="rgba(75,192,192,0.2)"/>
<path d="M1459.19 806.15V610.74H1467.59V806.15" fill="none" stroke="#4bc0c0" stroke-width="1"/>
<rect x="1096.00" y="572.00" width="39.00" height="12.00" fill="#dbf2f2" stroke="#93d6d6" stroke-width="2"/>
<text transform="translate(1141.50,581.00) scale(1,1)" text-anchor="start" >Orders</text>
<rect x="1324" y="588" width="79" height="47" rx="6" ry="6" fill="rgba(0,0,0,0.8)"/>
<path d="M1403 606.4L1408 611.4L1403 616.4Z" fill="rgba(0,0,0,0.8)"/>
<text transform="translate(1330.60,604.00) scale(1,1)" text-anchor="start" style="fill:#fff;font-weight:700">11-2018</text>
<rect x="1330" y="615" width="13" height="13" fill="#fff"/>
<rect x="1330.5" y="615.5" width="12" height="12" fill="#dbf2f2" stroke="#4bc0c0" stroke-width="1"/>
<text transform="translate(1344.30,624.00) scale(1,1)" text-anchor="start" style="fill:#fff">Orders: 459</text>
</svg>
</body></html>
